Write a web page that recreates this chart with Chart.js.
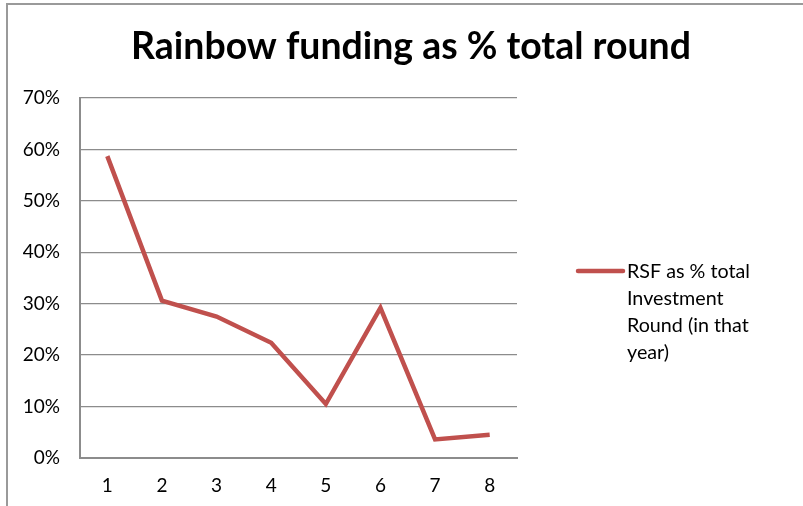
<!DOCTYPE html>
<html>
<head>
<meta charset="utf-8">
<script src="https://cdn.jsdelivr.net/npm/chart.js@4"></script>
<style>
  html, body { margin: 0; padding: 0; background: #fff; }
  #frame {
    position: absolute; left: 6px; top: 3px; width: 900px; height: 600px;
    border-left: 2px solid #9a9a9a; border-top: 2px solid #9a9a9a;
  }
  #wrap { position: absolute; left: 0; top: 0; width: 803px; height: 506px; }
</style>
</head>
<body>
<div id="frame"></div>
<div id="wrap"><canvas id="chart" width="803" height="506"></canvas></div>
<script>
const chartTitle = 'Rainbow funding as % total round';
const rounds = ['1', '2', '3', '4', '5', '6', '7', '8'];
const seriesLabel = 'RSF as % total Investment Round (in that year)';
const legendLines = ['RSF as % total', 'Investment', 'Round (in that', 'year)'];
const rsfShare = [0.587, 0.306, 0.275, 0.224, 0.105, 0.292, 0.036, 0.045];
const yTicks = [0, 0.1, 0.2, 0.3, 0.4, 0.5, 0.6, 0.7];

const FONT = "Lato, 'Open Sans', sans-serif";
const lineColor = '#c0504d';
const gridColor = '#8c8c8c';

// font size that makes text as wide as in the reference
function fitSize(ctx, text, weight, target) {
    ctx.font = weight + ' 20px ' + FONT;
    return 20 * target / ctx.measureText(text).width;
}

// title and multi-line legend drawn by hand
const extras = {
    id: 'extras',
    afterDraw(chart) {
        const ctx = chart.ctx;
        ctx.save();
        const size = fitSize(ctx, chartTitle, 'bold', 560);
        ctx.font = 'bold ' + size + 'px ' + FONT;
        ctx.fillStyle = '#000';
        ctx.textAlign = 'center';
        ctx.textBaseline = 'middle';
        ctx.fillText(chartTitle, 411, 47);

        // legend
        ctx.strokeStyle = lineColor;
        ctx.lineWidth = 4.5;
        ctx.lineCap = 'round';
        ctx.beginPath();
        ctx.moveTo(578, 271);
        ctx.lineTo(623, 271);
        ctx.stroke();
        const ls = fitSize(ctx, legendLines[0], 'normal', 123);
        ctx.font = ls + 'px ' + FONT;
        ctx.textAlign = 'left';
        legendLines.forEach((t, i) => ctx.fillText(t, 627, 272 + i * 27));
        ctx.restore();
    }
};

new Chart(document.getElementById('chart'), {
    type: 'line',
    data: {
        labels: rounds,
        datasets: [{
            label: seriesLabel,
            data: rsfShare,
            borderColor: lineColor,
            backgroundColor: lineColor,
            borderWidth: 4.5,
            pointRadius: 0,
            tension: 0,
            fill: false
        }]
    },
    options: {
        responsive: false,
        animation: false,
        layout: { padding: { left: 0, top: 98, right: 286, bottom: 0 } },
        plugins: {
            legend: { display: false },
            title: { display: false },
            tooltip: { enabled: false }
        },
        scales: {
            x: {
                offset: true,
                grid: { display: false, drawTicks: false },
                border: { color: gridColor, width: 2 },
                ticks: { color: '#000', font: { family: FONT, size: 19 }, padding: 16 },
                afterFit(scale) { scale.height = 48; }
            },
            y: {
                min: 0,
                max: 0.7,
                afterBuildTicks(scale) { scale.ticks = yTicks.map(v => ({ value: v })); },
                grid: { color: gridColor, lineWidth: 1.3, drawTicks: false },
                border: { color: gridColor, width: 2 },
                ticks: {
                    color: '#000',
                    font: { family: FONT, size: 19 },
                    padding: 20,
                    callback: v => Math.round(v * 100) + '%'
                },
                afterFit(scale) { scale.width = 80; }
            }
        }
    },
    plugins: [extras]
});
</script>
</body>
</html>
